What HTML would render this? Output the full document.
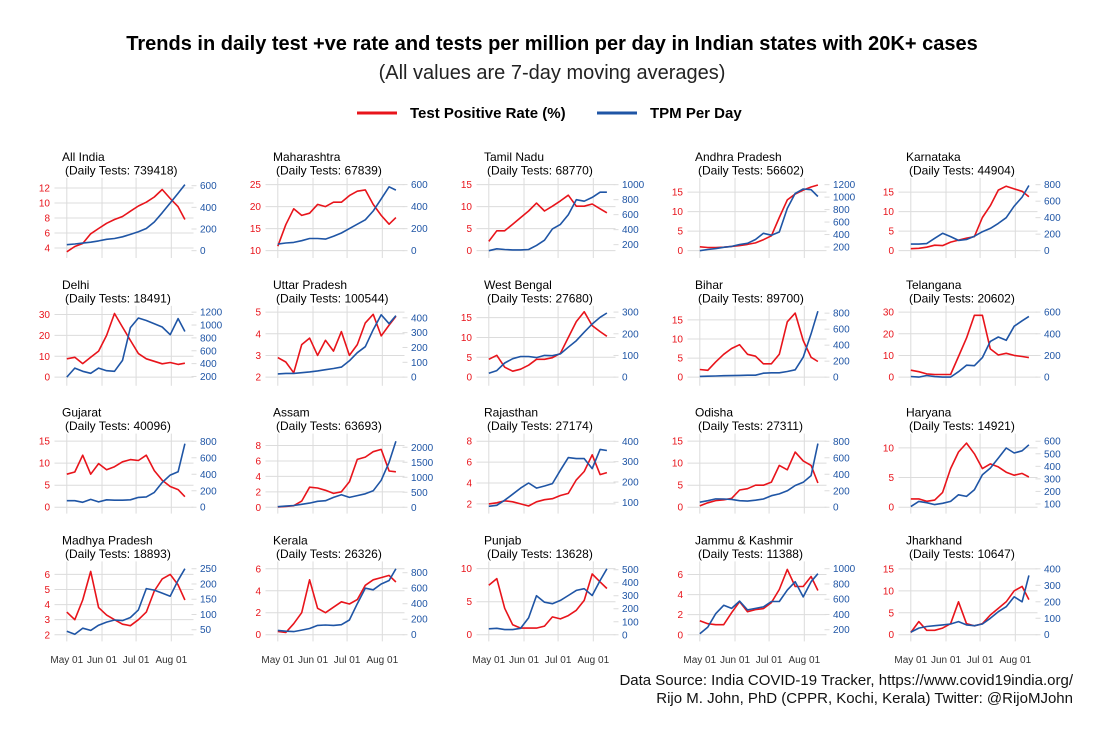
<!DOCTYPE html>
<html><head><meta charset="utf-8"><style>
html,body{margin:0;padding:0;background:#fff;}
svg{display:block;font-family:"Liberation Sans",sans-serif;}
</style></head><body>
<svg id="chart" width="1104" height="736" viewBox="0 0 1104 736" xmlns="http://www.w3.org/2000/svg">
<text x="552" y="50" text-anchor="middle" font-size="20" font-weight="bold" fill="#000">Trends in daily test +ve rate and tests per million per day in Indian states with 20K+ cases</text>
<text x="552" y="79" text-anchor="middle" font-size="20" fill="#222">(All values are 7-day moving averages)</text>
<g>
<line x1="357" y1="113" x2="397" y2="113" stroke="#e8141b" stroke-width="3"/>
<text x="410" y="118" font-size="15" font-weight="bold">Test Positive Rate (%)</text>
<line x1="597" y1="113" x2="637" y2="113" stroke="#1f55a5" stroke-width="3"/>
<text x="650" y="118" font-size="15" font-weight="bold">TPM Per Day</text>
</g>
<g id="panels"></g>
<text x="1073" y="685" text-anchor="end" font-size="15" fill="#111">Data Source: India COVID-19 Tracker, https://www.covid19india.org/</text>
<text x="1073" y="703" text-anchor="end" font-size="15" fill="#111">Rijo M. John, PhD (CPPR, Kochi, Kerala) Twitter: @RijoMJohn</text>
</svg>
<script>
const states = ["All India","Maharashtra","Tamil Nadu","Andhra Pradesh","Karnataka","Delhi","Uttar Pradesh","West Bengal","Bihar","Telangana","Gujarat","Assam","Rajasthan","Odisha","Haryana","Madhya Pradesh","Kerala","Punjab","Jammu & Kashmir","Jharkhand"];
const dailyTests = [739418,67839,68770,56602,44904,18491,100544,27680,89700,20602,40096,63693,27174,27311,14921,18893,26326,13628,11388,10647];
const days = [0,7,14,21,28,35,42,49,56,63,70,77,84,91,98,104];
const monthTickDays = [0,31,61,92];
const monthTickLabels = ["May 01","Jun 01","Jul 01","Aug 01"];
const tprSeries = [
[3.5,4.2,4.6,5.9,6.6,7.3,7.8,8.2,8.9,9.6,10.1,10.8,11.8,10.6,9.5,7.8],
[11,15.9,19.5,18,18.5,20.5,20,21,21,22.5,23.5,23.8,20.5,18,16,17.5],
[2.1,4.5,4.5,6,7.5,9,10.8,9,10.1,11.3,12.6,10.1,10.1,10.6,9.5,8.6],
[1,0.8,0.8,0.9,1.1,1.3,1.6,2,2.8,3.8,8.5,13,14.5,15.5,16.3,16.8],
[0.5,0.6,0.9,1.4,1.3,2.2,2.7,3.2,3.6,8.5,11.5,15.5,16.5,15.8,15.2,13.8],
[8.8,9.5,6.5,9.5,12.5,20,30.5,24,17.6,11.3,8.8,7.6,6.4,7,6.1,6.7],
[2.9,2.7,2.2,3.5,3.8,3.0,3.7,3.2,4.1,3.0,3.5,4.5,4.9,3.9,4.4,4.8],
[4.5,5.5,2.5,1.5,2,3,4.5,4.5,4.9,6,10,14,16.5,13,11.5,10.3],
[2,1.8,4,6,7.5,8.5,6,5.5,3.5,3.5,6,14.5,16.8,9.6,5.2,4.1],
[3.2,2.5,1.5,1.2,1.2,1.2,9.5,18,28.5,28.5,13,10.2,11,10,9.5,9],
[7.5,8,11.8,7.5,9.9,8.5,9.2,10.3,10.8,10.6,11.8,8.3,6.1,4.7,4.0,2.4],
[0.05,0.1,0.2,0.8,2.6,2.5,2.2,1.8,2.0,3.3,6.2,6.5,7.2,7.5,4.7,4.6],
[2,2.1,2.3,2.2,2.0,1.8,2.2,2.4,2.5,2.8,3.0,4.3,5.1,6.7,4.8,5.0],
[0.3,1,1.5,1.7,2,3.9,4.2,5,5,5.7,9.5,8.5,12.5,10.5,9.5,5.5],
[1.4,1.4,1.0,1.2,2.5,6.5,9.3,10.8,9.0,6.5,7.3,6.8,5.9,5.4,5.7,5.1],
[3.5,3.0,4.3,6.2,3.8,3.3,3.0,2.7,2.6,3.0,3.5,4.9,5.7,6.0,5.3,4.3],
[0.3,0.2,1.0,2.0,5.0,2.4,2.0,2.5,3.0,2.8,3.2,4.5,5.0,5.2,5.4,4.8],
[7.5,8.5,4,1.5,1,1.0,1,1.3,2.7,2.4,2.9,3.7,5.2,9.2,8.0,7.0],
[1.4,1.1,1.0,1.0,2.2,3.3,2.3,2.5,2.6,3.2,4.5,6.5,4.8,4.8,5.8,4.4],
[0.5,3,1.0,1.0,1.5,2.5,7.5,2.5,2,2.5,4.5,6,7.5,10,11,8]
];
const tpmSeries = [
[55,62,70,78,90,105,112,128,150,175,205,265,350,440,530,610],
[60,70,75,90,110,110,105,130,160,200,240,280,360,470,580,550],
[120,145,135,130,130,135,190,260,410,470,600,800,780,830,900,900],
[140,160,175,195,210,240,260,320,420,390,440,820,1060,1130,1120,1010],
[80,80,85,150,210,170,125,135,175,230,270,330,400,540,650,790],
[190,330,280,250,330,290,280,450,960,1110,1070,1020,970,850,1100,900],
[22,25,25,30,35,42,50,58,68,110,165,205,320,420,360,415],
[18,30,65,85,95,95,90,100,99,107,138,168,207,245,276,296],
[9,12,15,18,20,22,24,25,50,55,55,71,92,250,542,825],
[6,0,15,5,0,0,50,110,105,180,330,370,340,470,520,560],
[80,80,60,95,65,90,85,85,90,120,125,180,300,390,430,770],
[20,40,60,100,140,200,220,330,420,330,390,450,550,900,1500,2200],
[80,85,110,140,170,195,170,180,192,258,320,315,315,266,360,355],
[61,80,101,100,95,80,75,85,100,140,162,200,264,303,384,772],
[79,120,110,95,105,120,173,160,213,333,386,466,546,506,524,572],
[45,35,55,48,65,75,82,80,90,115,185,180,170,160,212,250],
[56,45,40,60,80,120,125,120,130,190,400,600,580,655,700,851],
[46,50,40,40,50,130,300,250,239,264,302,341,354,302,417,507],
[148,235,410,520,480,575,460,480,500,570,570,720,830,630,830,935],
[16,40,50,55,60,65,80,60,55,65,100,140,170,230,200,360]
];
const leftTicks = [[4,6,8,10,12],[10,15,20,25],[0,5,10,15],[0,5,10,15],[0,5,10,15],[0,10,20,30],[2,3,4,5],[0,5,10,15],[0,5,10,15],[0,10,20,30],[0,5,10,15],[0,2,4,6,8],[2,4,6,8],[0,5,10,15],[0,5,10],[2,3,4,5,6],[0,2,4,6],[0,5,10],[0,2,4,6],[0,5,10,15]];
const rightTicks = [[0,200,400,600],[0,200,400,600],[200,400,600,800,1000],[200,400,600,800,1000,1200],[0,200,400,600,800],[200,400,600,800,1000,1200],[0,100,200,300,400],[0,100,200,300],[0,200,400,600,800],[0,200,400,600],[0,200,400,600,800],[0,500,1000,1500,2000],[100,200,300,400],[0,200,400,600,800],[100,200,300,400,500,600],[50,100,150,200,250],[0,200,400,600,800],[0,100,200,300,400,500],[200,400,600,800,1000],[0,100,200,300,400]];
const leftDomains = [[2.67,13.33],[8.33,26.5],[-1.67,16.5],[-1.875,18.6],[-1.875,18.6],[-4.15,34.2],[1.6,5.29],[-2.19,18],[-2.26,18.7],[-4,32.9],[-1.44,16.7],[-0.82,9.55],[1.07,8.73],[-1.44,16.7],[-1.07,12.4],[1.56,6.86],[-0.606,6.67],[-1.01,11.1],[-0.66,7.3],[-1.52,16.7]];
const rightDomains = [[-67.7,671],[-66.7,660],[22,1089],[23.5,1307],[-89,881],[55,1299],[-58.4,481],[-40,329],[-108,892],[-80,658],[-77,893],[-211,2456],[44.3,438],[-77,893],[23,661],[11.8,274],[-86,946],[-51,564],[47,1096],[-40.4,445]];

const NS = "http://www.w3.org/2000/svg";
const root = document.getElementById("panels");
const RED = "#e8141b", BLUE = "#1f55a5", GRID = "#dcdcdc";
function mk(tag, attrs, parent){ const e = document.createElementNS(NS, tag); for (const k in attrs) e.setAttribute(k, attrs[k]); parent.appendChild(e); return e; }
function slug(s){ return s.toLowerCase().replace(/[^a-z]+/g,'-').replace(/-$/,''); }

states.forEach((name, i) => {
  const c = i % 5, r = Math.floor(i / 5);
  const pl = 54.5 + 211*c, pr = 193.5 + 211*c;
  const top = 178 + 127.8*r, bot = 258 + 127.8*r;
  const xS = d => 66.8 + 211*c + 1.136*d;
  const yL = v => bot - (v - leftDomains[i][0]) / (leftDomains[i][1] - leftDomains[i][0]) * (bot - top);
  const yR = v => bot - (v - rightDomains[i][0]) / (rightDomains[i][1] - rightDomains[i][0]) * (bot - top);
  const g = mk("g", {}, root);
  
  
  monthTickDays.forEach(d => {
    const l = mk("line", {x1:xS(d), x2:xS(d), y1:top, y2:bot, stroke:GRID, "stroke-width":1}, g);
    
    
  });
  leftTicks[i].forEach(v => {
    const y = yL(v);
    const l = mk("line", {x1:pl, x2:pr, y1:y, y2:y, stroke:GRID, "stroke-width":1}, g);
    
    
    const t = mk("text", {x:50 + 211*c, y:y + 3.5, "text-anchor":"end", "font-size":10, fill:RED}, g);
    t.textContent = v;
    
    
  });
  rightTicks[i].forEach(v => {
    const y = yR(v);
    const l = mk("line", {x1:pr - 2, x2:pr + 3, y1:y, y2:y, stroke:GRID, "stroke-width":1}, g);
    
    
    const t = mk("text", {x:200 + 211*c, y:y + 3.5, "font-size":10, fill:BLUE}, g);
    t.textContent = v;
    
    
  });
  const t1 = mk("text", {x:62 + 211*c, y:161 + 127.8*r, "font-size":12, fill:"#000"}, g);
  t1.textContent = name;
  
  
  const t2 = mk("text", {x:65 + 211*c, y:174.5 + 127.8*r, "font-size":12, fill:"#000"}, g);
  t2.textContent = "(Daily Tests: " + dailyTests[i] + ")";
  
  
  const tprPts = days.map((d, k) => xS(d).toFixed(1) + "," + yL(tprSeries[i][k]).toFixed(1)).join(" ");
  const tpmPts = days.map((d, k) => xS(d).toFixed(1) + "," + yR(tpmSeries[i][k]).toFixed(1)).join(" ");
  const p1 = mk("polyline", {points:tprPts, fill:"none", stroke:RED, "stroke-width":1.6, "stroke-linejoin":"round"}, g);
  
  
  const p2 = mk("polyline", {points:tpmPts, fill:"none", stroke:BLUE, "stroke-width":1.6, "stroke-linejoin":"round"}, g);
  
  
  if (r === 3) {
    monthTickDays.forEach((d, k) => {
      const t = mk("text", {x:xS(d), y:663, "text-anchor":"middle", "font-size":10, fill:"#333"}, g);
      t.textContent = monthTickLabels[k];
      
      
    });
  }
});
</script>
</body></html>
